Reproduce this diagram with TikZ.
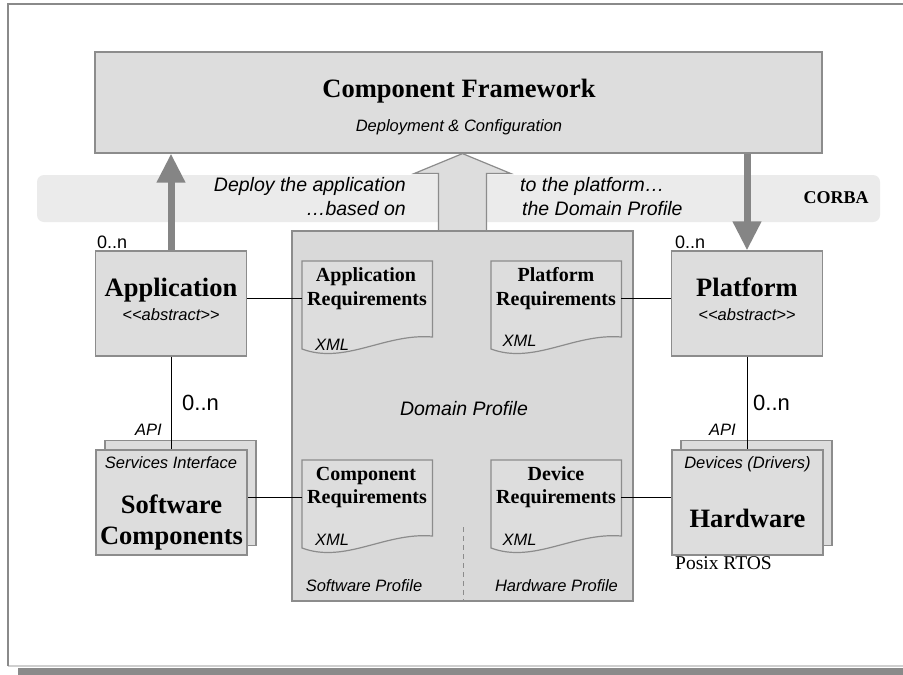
\documentclass[tikz,border=0pt]{standalone}
\usepackage{fontspec}
\setmainfont{Liberation Serif}
\setsansfont{Liberation Sans}
\usetikzlibrary{arrows.meta,calc}

\definecolor{boxfill}{HTML}{DDDDDD}
\definecolor{boxline}{HTML}{8C8C8C}
\definecolor{domfill}{HTML}{D9D9D9}
\definecolor{bandfill}{HTML}{EBEBEB}
\definecolor{arrowgray}{HTML}{858585}
\definecolor{framegray}{HTML}{8A8A8A}
\definecolor{framelight}{HTML}{CFCFCF}

% requirement document: a box with a wavy lower edge
\newcommand\reqdoc[2]{%
  \node[docbody, anchor=north west] (#1) at #2 {};
  \filldraw[docline] (#1.north west) -- (#1.north east)
    -- ($(#1.north east)+(0,76)$)
    .. controls ($(#1.north west)+(83,72)$) and ($(#1.north west)+(43,104)$)
    .. ($(#1.north west)+(0,88)$) -- cycle;
}

\begin{document}
\begin{tikzpicture}[x=1pt, y=-1pt,
  box/.style={draw=boxline, fill=boxfill, line width=1.2pt, rectangle, inner sep=0pt},
  docbody/.style={rectangle, inner sep=0pt, minimum width=130pt, minimum height=74pt},
  docline/.style={draw=boxline, fill=boxfill, line width=1.2pt},
  link/.style={draw=black, line width=1pt},
  fatarrow/.style={draw=arrowgray, line width=7pt, -{Triangle[length=29pt, width=27pt]}},
  bigtitle/.style={font=\bfseries\fontsize{26.5}{31}\selectfont, inner sep=0pt, anchor=base},
  reqtitle/.style={font=\bfseries\fontsize{20}{24}\selectfont, inner sep=0pt, anchor=base},
  note/.style={font=\sffamily\itshape\fontsize{16.5}{19}\selectfont, inner sep=0pt, anchor=base},
  deploy/.style={font=\sffamily\itshape\fontsize{19.5}{23}\selectfont, inner sep=0pt},
  count/.style={font=\sffamily\fontsize{18}{20}\selectfont, inner sep=0pt},
  bigcount/.style={font=\sffamily\fontsize{22}{24}\selectfont, inner sep=0pt}
]
\useasboundingbox (0,0) rectangle (903,675);
\fill[white] (0,0) rectangle (903,675);

% page frame with its shadow
\fill[framegray] (18,668) rectangle (903,675);
\draw[framelight, line width=1.5pt] (8,666) -- (903,666);
\draw[framegray, line width=1.5pt] (8,666) -- (8,4) -- (903,4);

% CORBA band
\node[fill=bandfill, rounded corners=7pt, minimum width=843pt, minimum height=47pt, inner sep=0pt] (band) at (458.5,198.5) {};
\node[font=\bfseries\fontsize{18}{20}\selectfont, inner sep=0pt, anchor=base] (corba) at (836,203) {CORBA};

% component framework
\node[box, minimum width=727pt, minimum height=101pt] (fw) at (458.5,102.5) {};
\node[bigtitle] (fwtitle) at (459,97.5) {Component Framework};
\node[note] (fwsub) at (459,131.5) {Deployment \& Configuration};

% domain profile
\node[box, fill=domfill, minimum width=341pt, minimum height=370pt] (dom) at (462.5,416) {};

% hollow arrow from the domain profile up to the framework
\filldraw[draw=boxline, fill=boxfill, line width=1.2pt]
  ($(dom.north)+(-24,0)$) -- ($(dom.north)+(-24,-57)$) -- ($(dom.north)+(-48,-57)$)
  -- (dom.north |- fw.south) -- ($(dom.north)+(48,-57)$) -- ($(dom.north)+(24,-57)$)
  -- ($(dom.north)+(24,0)$);
\draw[boxline, line width=1.2pt] (dom.north west) -- (dom.north east);

\node[deploy, anchor=base east] (dep1) at (406,191) {Deploy the application};
\node[deploy, anchor=base east] (dep2) at (406,215) {…based on};
\node[deploy, anchor=base west] (dep3) at (520,191) {to the platform…};
\node[deploy, anchor=base west] (dep4) at (522,215) {the Domain Profile};

\draw[dashed, dash pattern=on 5pt off 4pt, boxline, line width=1pt] (463,527) -- (463,601);
\node[deploy, anchor=base] (domlabel) at (464,415) {Domain Profile};
\node[note] (swprof) at (364,591) {Software Profile};
\node[note] (hwprof) at (556.5,591) {Hardware Profile};

% requirement documents
\reqdoc{areq}{(302,261)}
\reqdoc{preq}{(491,261)}
\reqdoc{creq}{(302,460)}
\reqdoc{dreq}{(491,460)}
\node[reqtitle] (areqt1) at (366,281.5) {Application};
\node[reqtitle] (areqt2) at (367,305) {Requirements};
\node[note] (areqx) at (332,350.5) {XML};
\node[reqtitle] (preqt1) at (556,281.5) {Platform};
\node[reqtitle] (preqt2) at (556,305) {Requirements};
\node[note] (preqx) at (519.5,346) {XML};
\node[reqtitle] (creqt1) at (366,480) {Component};
\node[reqtitle] (creqt2) at (367,503.5) {Requirements};
\node[note] (creqx) at (332,545) {XML};
\node[reqtitle] (dreqt1) at (556,480) {Device};
\node[reqtitle] (dreqt2) at (556,503.5) {Requirements};
\node[note] (dreqx) at (519.5,545) {XML};

% application and platform
\node[count, anchor=base west] (appn) at (97,248) {0..n};
\node[count, anchor=base west] (platn) at (675,248) {0..n};
\node[box, minimum width=151pt, minimum height=105pt] (app) at (171,303.5) {};
\node[box, minimum width=151pt, minimum height=105pt] (plat) at (747,303.5) {};
\node[bigtitle] (appt) at (171,296) {Application};
\node[note] (apps) at (171,320.5) {<{}<abstract>{}>};
\node[bigtitle] (platt) at (747,296) {Platform};
\node[note] (plats) at (747,320.5) {<{}<abstract>{}>};

% deployment arrows
\draw[fatarrow] (app.north) -- (app.north |- fw.south);
\draw[fatarrow] (fw.south -| plat.north) -- (plat.north);

% software components and hardware
\node[box, minimum width=151pt, minimum height=105pt] (swback) at (180.5,493) {};
\node[box, minimum width=151pt, minimum height=105pt] (sw) at (171.5,502.5) {};
\node[box, minimum width=151pt, minimum height=105pt] (hwback) at (756.5,493) {};
\node[box, minimum width=151pt, minimum height=105pt] (hw) at (747.5,502.5) {};
\node[note] (swsi) at (171,468.5) {Services Interface};
\node[bigtitle] (swt1) at (171.5,513) {Software};
\node[bigtitle] (swt2) at (171.5,544) {Components};
\node[note] (hwdd) at (747.5,468.5) {Devices (Drivers)};
\node[bigtitle] (hwt) at (747.5,527.5) {Hardware};
\node[font=\fontsize{19.5}{22}\selectfont, inner sep=0pt, anchor=west] (posix) at (675,563) {Posix RTOS};

% connectors
\draw[link] (areq.west) -- (areq.west -| app.east);
\draw[link] (preq.east) -- (preq.east -| plat.west);
\draw[link] (creq.west) -- (creq.west -| sw.east);
\draw[link] (dreq.east) -- (dreq.east -| hw.west);
\draw[link] (app.south) -- (app.south |- sw.north);
\draw[link] (plat.south) -- (plat.south |- hw.north);

\node[bigcount, anchor=base west] (appswn) at (182,410) {0..n};
\node[bigcount, anchor=base west] (plathwn) at (753,410) {0..n};
\node[note, anchor=base east] (swapi) at (162,435) {API};
\node[note, anchor=base east] (hwapi) at (736,435) {API};
\end{tikzpicture}
\end{document}
